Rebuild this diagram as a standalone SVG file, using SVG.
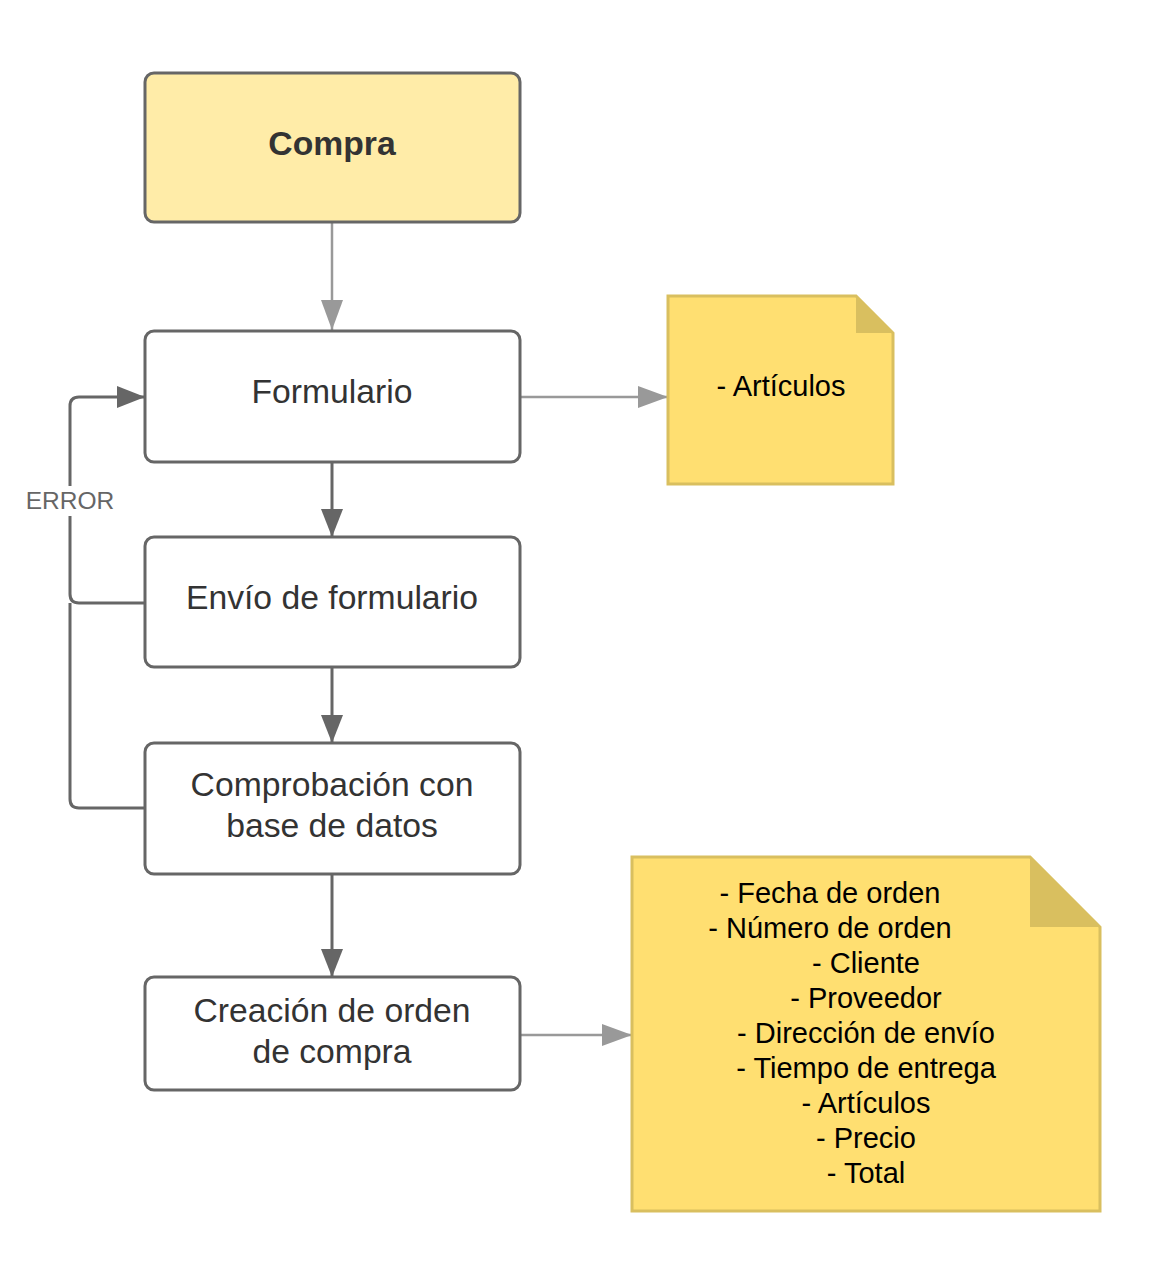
<svg xmlns="http://www.w3.org/2000/svg" width="1160" height="1264" viewBox="0 0 1160 1264">
<style>
.box{fill:#ffffff;stroke:#666666;stroke-width:3}
.start{fill:#ffeca8;stroke:#666666;stroke-width:3}
.note{fill:#ffdf71;stroke:#d9bf5f;stroke-width:3}
.fold{fill:#d9bf5f;stroke:none}
.t{font-family:"Liberation Sans",Arial,sans-serif;font-size:33.7px;fill:#333333;text-anchor:middle}
.tb{font-weight:bold}
.nt{font-family:"Liberation Sans",Arial,sans-serif;font-size:29px;fill:#000000;text-anchor:middle}
.lbl{font-family:"Liberation Sans",Arial,sans-serif;font-size:24.5px;fill:#666666;text-anchor:middle}
.dk{fill:none;stroke:#666666;stroke-width:3}
.gy{fill:none;stroke:#999999;stroke-width:2.5}
</style>
<defs>
<marker id="ad" markerUnits="userSpaceOnUse" markerWidth="28" markerHeight="22" refX="28" refY="11" orient="auto"><path d="M0,0 L28,11 L0,22 z" fill="#666666"/></marker>
<marker id="ag" markerUnits="userSpaceOnUse" markerWidth="30" markerHeight="22" refX="30" refY="11" orient="auto"><path d="M0,0 L30,11 L0,22 z" fill="#999999"/></marker>
</defs>
<rect width="1160" height="1264" fill="#ffffff"/>
<g id="connectors">
<path class="gy" d="M332,222 V330" marker-end="url(#ag)"/>
<path class="dk" d="M332,462 V537" marker-end="url(#ad)"/>
<path class="dk" d="M332,667 V743" marker-end="url(#ad)"/>
<path class="dk" d="M332,874 V977" marker-end="url(#ad)"/>
<path class="gy" d="M520,397 H668" marker-end="url(#ag)"/>
<path class="gy" d="M520,1035 H632" marker-end="url(#ag)"/>
<path class="dk" d="M145,603 H79 Q70,603 70,594 V406 Q70,397 79,397 H145" marker-end="url(#ad)"/>
<path class="dk" d="M145,808 H79 Q70,808 70,799 V603"/>
<rect x="22" y="486" width="96" height="30" fill="#ffffff"/>
<text class="lbl" x="70" y="509">ERROR</text>
</g>
<g id="compra">
<rect class="start" x="145" y="73" width="375" height="149" rx="9"/>
<text class="t tb" x="332" y="155">Compra</text>
</g>
<g id="formulario">
<rect class="box" x="145" y="331" width="375" height="131" rx="9"/>
<text class="t" x="332" y="403">Formulario</text>
</g>
<g id="envio">
<rect class="box" x="145" y="537" width="375" height="130" rx="9"/>
<text class="t" x="332" y="609">Envío de formulario</text>
</g>
<g id="comprobacion">
<rect class="box" x="145" y="743" width="375" height="131" rx="9"/>
<text class="t" x="332" y="796">Comprobación con</text>
<text class="t" x="332" y="837">base de datos</text>
</g>
<g id="creacion">
<rect class="box" x="145" y="977" width="375" height="113" rx="9"/>
<text class="t" x="332" y="1022">Creación de orden</text>
<text class="t" x="332" y="1063">de compra</text>
</g>
<g id="note1">
<path class="note" d="M668,296 H856 L893,333 V484 H668 Z"/>
<path class="fold" d="M856,296 V333 H893 Z"/>
<text class="nt" x="781" y="396">- Artículos</text>
</g>
<g id="note2">
<path class="note" d="M632,857 H1030 L1100,927 V1211 H632 Z"/>
<path class="fold" d="M1030,857 V927 H1100 Z"/>
<text class="nt" x="830" y="903">- Fecha de orden</text>
<text class="nt" x="830" y="938">- Número de orden</text>
<text class="nt" x="866" y="973">- Cliente</text>
<text class="nt" x="866" y="1008">- Proveedor</text>
<text class="nt" x="866" y="1043">- Dirección de envío</text>
<text class="nt" x="866" y="1078">- Tiempo de entrega</text>
<text class="nt" x="866" y="1113">- Artículos</text>
<text class="nt" x="866" y="1148">- Precio</text>
<text class="nt" x="866" y="1183">- Total</text>
</g>
</svg>
